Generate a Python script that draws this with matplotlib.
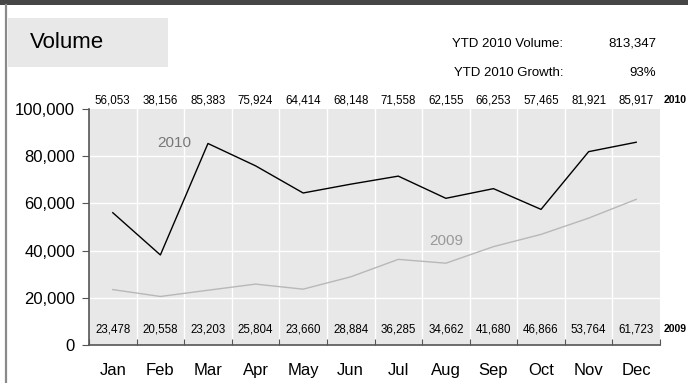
import matplotlib.pyplot as plt
import numpy as np
from matplotlib.patches import Rectangle
from matplotlib.lines import Line2D

months = ["Jan", "Feb", "Mar", "Apr", "May", "Jun", "Jul", "Aug", "Sep", "Oct", "Nov", "Dec"]
vol_2010 = [56053, 38156, 85383, 75924, 64414, 68148, 71558, 62155, 66253, 57465, 81921, 85917]
vol_2009 = [23478, 20558, 23203, 25804, 23660, 28884, 36285, 34662, 41680, 46866, 53764, 61723]
yticks = [0, 20000, 40000, 60000, 80000, 100000]
ytd_volume = "813,347"
ytd_growth = "93%"

W, H = 688, 383
fig = plt.figure(figsize=(W / 100, H / 100), dpi=100)
fig.patch.set_facecolor("white")

regular = ["Liberation Sans", "DejaVu Sans"]


# frame decorations (pixel coords -> figure fraction)
def fx(px):
    return px / W


def fy(py):
    return 1 - py / H


fig.patches.append(Rectangle((0, fy(5)), 1, 5 / H, transform=fig.transFigure,
                             facecolor="#464646", edgecolor="none"))
fig.lines.append(Line2D([fx(6), fx(6)], [0, fy(5)], transform=fig.transFigure,
                        color="#8a8a8a", lw=1.6))
fig.patches.append(Rectangle((fx(8), fy(67)), fx(160), 49 / H, transform=fig.transFigure,
                             facecolor="#e8e8e8", edgecolor="none"))
fig.text(fx(30), fy(43), "Volume", fontsize=16, family=regular, va="center", ha="left")

fig.text(fx(563), fy(44), "YTD 2010 Volume:", fontsize=9.5, family=regular, va="center", ha="right")
fig.text(fx(656), fy(44), ytd_volume, fontsize=9.5, family=regular, va="center", ha="right")
fig.text(fx(563), fy(73), "YTD 2010 Growth:", fontsize=9.5, family=regular, va="center", ha="right")
fig.text(fx(656), fy(73), ytd_growth, fontsize=9.5, family=regular, va="center", ha="right")

ax = fig.add_axes([fx(89), fy(345), fx(660 - 89), (345 - 109) / H])
ax.set_facecolor("#e8e8e8")
x = np.arange(len(months))

ax.plot(x, vol_2010, color="black", lw=1.0, zorder=3)
ax.plot(x, vol_2009, color="#b8b8b8", lw=1.0, zorder=3)

ax.set_xlim(-0.5, len(months) - 0.5)
ax.set_ylim(0, 100000)

# white grid at category boundaries and value ticks
for b in np.arange(0.5, len(months) - 0.5, 1):
    ax.axvline(b, color="white", lw=1.0, zorder=1)
for v in yticks[1:-1]:
    ax.axhline(v, color="white", lw=1.0, zorder=1)

ax.set_yticks(yticks)
ax.set_yticklabels([f"{v:,}" for v in yticks], family=regular, fontsize=12)
ax.set_xticks(np.arange(-0.5, len(months), 1))
ax.set_xticklabels([])
ax.set_xticks(x, minor=True)
ax.set_xticklabels(months, minor=True, family=regular, fontsize=12)
ax.tick_params(axis="x", which="minor", length=0, pad=13)
ax.tick_params(axis="x", which="major", length=4, direction="in", color="#555555")
ax.tick_params(axis="y", length=5, direction="out", color="#555555", pad=5)

for s in ["top", "right"]:
    ax.spines[s].set_visible(False)
ax.spines["left"].set_color("#555555")
ax.spines["bottom"].set_color("#555555")
ax.spines["left"].set_linewidth(1.2)
ax.spines["bottom"].set_linewidth(1.2)

# data labels
for i in range(len(months)):
    ax.text(x[i], 103700, f"{vol_2010[i]:,}", ha="center", va="center",
            fontsize=8.3, family=regular, clip_on=False)
    ax.text(x[i], 6700, f"{vol_2009[i]:,}", ha="center", va="center",
            fontsize=8.3, family=regular)
ax.text(11.57, 103700, "2010", ha="left", va="center", fontsize=7.5,
        family=regular, fontweight="bold", clip_on=False)
ax.text(11.57, 6700, "2009", ha="left", va="center", fontsize=7.5,
        family=regular, fontweight="bold", clip_on=False)

# series labels
ax.text(1.3, 85500, "2010", color="#777777", fontsize=11, family=regular, ha="center", va="center")
ax.text(7.0, 44000, "2009", color="#999999", fontsize=11, family=regular, ha="center", va="center")

fig.savefig("out.png", dpi=100)
